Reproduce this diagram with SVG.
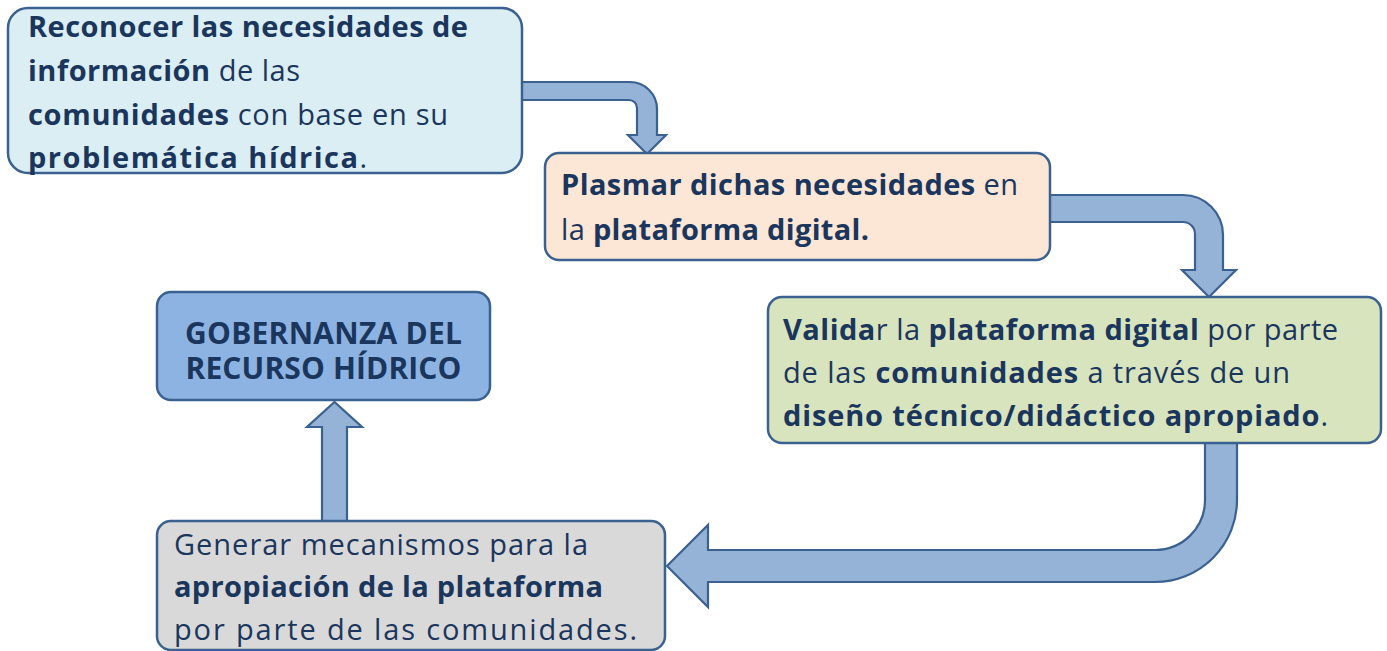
<svg xmlns="http://www.w3.org/2000/svg" width="1387" height="651" viewBox="0 0 1387 651">
<style>
.box{stroke:#3b6190;stroke-width:2.5}
.arrow{fill:#95b3d7;stroke:#3b6190;stroke-width:2.2;stroke-linejoin:miter}
text{font-family:"Open Sans","Liberation Sans",sans-serif;font-size:29px;fill:#1b365d}
.b{font-weight:bold}
.gob{font-size:30px;font-weight:bold;text-anchor:middle}
</style>
<rect width="1387" height="651" fill="#ffffff"/>
<g id="connectors">
<path class="arrow" d="M521,82 H630 A27,27 0 0 1 657,109 V135 H666 L647,154 L628,135 H637 V108 A8,8 0 0 0 629,100 H521 Z"/>
<path class="arrow" d="M1047,195 H1183 A40,40 0 0 1 1223,235 V270 H1236 L1209,297 L1182,270 H1195 V234 A12,12 0 0 0 1183,222 H1047 Z"/>
<path class="arrow" d="M1237,442 V500 A82,82 0 0 1 1155,582 H708 V607 L667,566 L708,525 V550 H1155 A50,50 0 0 0 1205,500 V442 Z"/>
<path class="arrow" d="M322,521 V427 H307 L334.5,402 L362,427 H347 V521 Z"/>
</g>
<g id="node-reconocer">
<rect class="box" x="8" y="8" width="514" height="165" rx="20" fill="#dbeef4"/>
<text x="28" y="37" textLength="440"><tspan class="b">Reconocer las necesidades de</tspan></text>
<text x="28" y="81" textLength="272"><tspan class="b">información</tspan> de las</text>
<text x="28" y="125" textLength="420"><tspan class="b">comunidades</tspan> con base en su</text>
<text x="28" y="168" textLength="339"><tspan class="b">problemática hídrica</tspan>.</text>
</g>
<g id="node-plasmar">
<rect class="box" x="545" y="153" width="505" height="107" rx="14" fill="#fce6d6"/>
<text x="561" y="195" textLength="457"><tspan class="b">Plasmar dichas necesidades</tspan> en</text>
<text x="561" y="240" textLength="308">la <tspan class="b">plataforma digital.</tspan></text>
</g>
<g id="node-validar">
<rect class="box" x="768" y="297" width="613" height="146" rx="14" fill="#d8e4bd"/>
<text x="783" y="340" textLength="555"><tspan class="b">Valida</tspan>r la <tspan class="b">plataforma digital</tspan> por parte</text>
<text x="783" y="383" textLength="507">de las <tspan class="b">comunidades</tspan> a través de un</text>
<text x="783" y="426" textLength="545"><tspan class="b">diseño técnico/didáctico apropiado</tspan>.</text>
</g>
<g id="node-gobernanza">
<rect class="box" x="157" y="292" width="333" height="108" rx="14" fill="#8db3e2"/>
<text class="gob" x="323.5" y="344" textLength="277">GOBERNANZA DEL</text>
<text class="gob" x="323.5" y="379" textLength="276">RECURSO HÍDRICO</text>
</g>
<g id="node-generar">
<rect class="box" x="157" y="521" width="508" height="129" rx="14" fill="#d9d9d9"/>
<text x="174" y="555" textLength="414">Generar mecanismos para la</text>
<text x="174" y="597" textLength="429"><tspan class="b">apropiación de la plataforma</tspan></text>
<text x="174" y="640" textLength="463">por parte de las comunidades.</text>
</g>
</svg>
